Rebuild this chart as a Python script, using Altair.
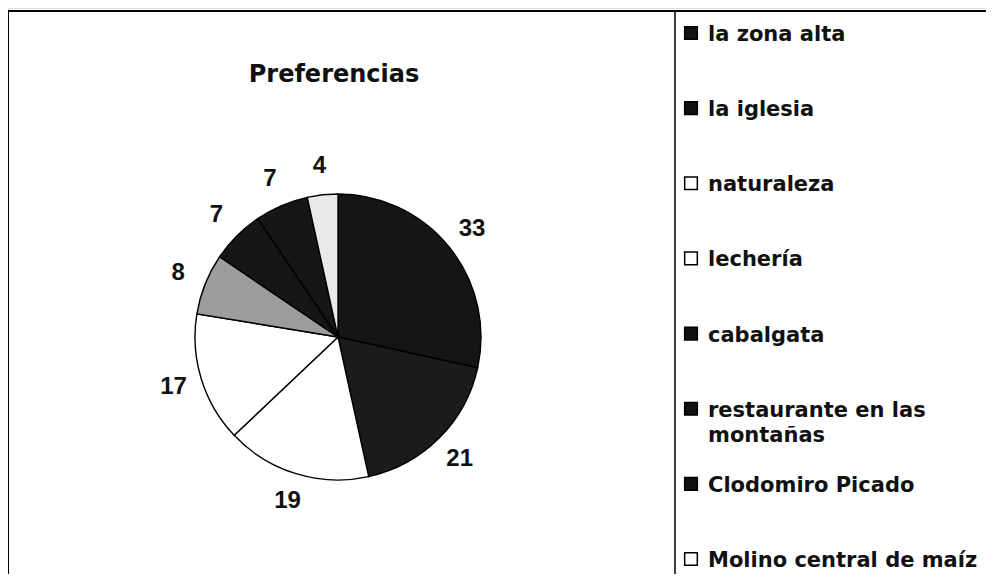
import altair as alt
import pandas as pd

categories = ["la zona alta", "la iglesia", "naturaleza", "lechería", "cabalgata",
              "restaurante en las montañas", "Clodomiro Picado", "Molino central de maíz"]
values = [33, 21, 19, 17, 8, 7, 7, 4]
legend_labels = ["la zona alta", "la iglesia", "naturaleza", "lechería", "cabalgata",
                 "restaurante en las\nmontañas", "Clodomiro Picado", "Molino central de maíz"]
title_text = "Preferencias"

pie_colors = ["#151515", "#1b1b1b", "#ffffff", "#ffffff", "#9c9c9c", "#161616", "#161616", "#e9e9e9"]
legend_colors = ["#111111", "#111111", "#ffffff", "#ffffff", "#111111", "#111111", "#111111", "#ffffff"]

df = pd.DataFrame({"cat": categories, "value": values, "order": list(range(len(categories))),
                   "label": legend_labels})

W, H = 978, 566
CX, CY, R = 330, 329, 143

base = alt.Chart(df)

pie = base.mark_arc(radius=R, stroke="black", strokeWidth=1.4).encode(
    theta=alt.Theta("value:Q", stack=True),
    order=alt.Order("order:Q"),
    color=alt.Color("cat:N", scale=alt.Scale(domain=categories, range=pie_colors), legend=None),
    x=alt.value(CX), y=alt.value(CY),
)

labels = base.mark_text(radius=172, font="Liberation Sans", fontSize=24, fontWeight="bold",
                        color="#111111").encode(
    theta=alt.Theta("value:Q", stack=True),
    order=alt.Order("order:Q"),
    text=alt.Text("value:Q"),
    x=alt.value(CX), y=alt.value(CY),
)

title = alt.Chart(pd.DataFrame({"t": [title_text]})).mark_text(
    font="DejaVu Sans", fontSize=24, fontWeight="bold", color="#111111", baseline="middle", align="center"
).encode(text="t:N", x=alt.value(326), y=alt.value(67))

yscale = alt.Scale(type="point", domain=categories, range=[25, 551], padding=0)

leg_sq = base.mark_square(size=160, stroke="black", strokeWidth=1.5, opacity=1).encode(
    y=alt.Y("cat:N", scale=yscale, axis=None),
    x=alt.value(683),
    fill=alt.Fill("cat:N", scale=alt.Scale(domain=categories, range=legend_colors), legend=None),
)

leg_txt = base.mark_text(align="left", baseline="alphabetic", dy=8, lineBreak="\n", lineHeight=25,
                         font="DejaVu Sans", fontSize=21, fontWeight="bold", color="#111111").encode(
    y=alt.Y("cat:N", scale=yscale, axis=None),
    x=alt.value(700),
    text="label:N",
)

top_rule = alt.Chart(pd.DataFrame({"a": [0]})).mark_rule(color="black", strokeWidth=2).encode(
    x=alt.value(0), x2=alt.value(W), y=alt.value(3))
left_rule = alt.Chart(pd.DataFrame({"a": [0]})).mark_rule(color="black", strokeWidth=2).encode(
    x=alt.value(0), y=alt.value(3), y2=alt.value(H))
div_rule = alt.Chart(pd.DataFrame({"a": [0]})).mark_rule(color="black", strokeWidth=1.5).encode(
    x=alt.value(667), y=alt.value(3), y2=alt.value(H))

chart = alt.layer(pie, labels, title, leg_sq, leg_txt, top_rule, left_rule, div_rule).resolve_scale(
    color="independent", fill="independent"
).properties(
    width=W, height=H, padding=0, autosize=alt.AutoSizeParams(type="none")
).configure_view(stroke=None).configure(background="white")

chart.save("out.html", embed_options={"renderer": "svg", "actions": False})
